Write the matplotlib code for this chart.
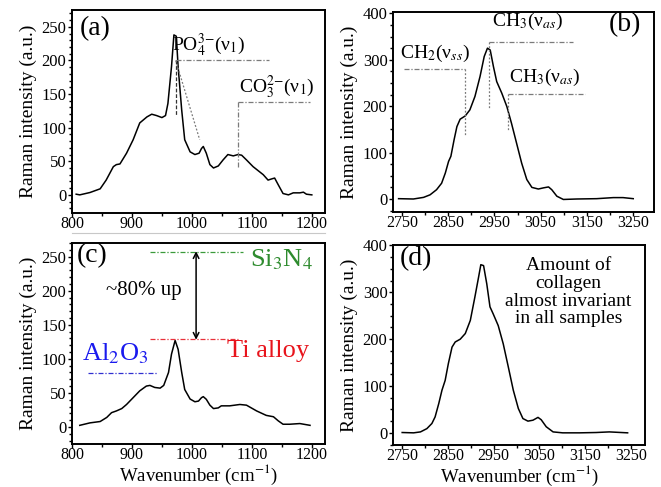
import matplotlib
matplotlib.use("Agg")
import matplotlib.pyplot as plt
from matplotlib.ticker import MultipleLocator
from matplotlib.lines import Line2D

plt.rcParams['font.family'] = ['Liberation Serif', 'DejaVu Serif']
plt.rcParams['mathtext.fontset'] = 'stix'

# (a) phosphate / carbonate region, reference sample
wn_a = [807, 813, 830, 847, 857, 869, 874, 880, 891, 902, 913, 925, 933, 941,
        950, 956, 960, 966, 970, 974, 977, 983, 988, 997, 1005, 1012, 1016,
        1019, 1024, 1030, 1036, 1044, 1052, 1060, 1069, 1077, 1083, 1091,
        1102, 1119, 1127, 1134, 1138, 1144, 1152, 1161, 1169, 1180, 1186,
        1191, 1200]
int_a = [1, 0, 3.5, 9, 22, 42, 45, 46, 62, 82, 107, 116, 120, 118,
         115, 118, 136, 191, 238, 236, 191, 126, 82, 64, 60, 62, 69,
         72, 62, 45, 40, 43, 52, 60, 58, 60, 59, 52,
         42, 30, 22, 24, 25, 15, 2, 0, 3, 3, 4,
         1, 0]

# (b) CH stretching region, reference sample
wn_b = [2743, 2775, 2797, 2811, 2825, 2836, 2844, 2851, 2856, 2863, 2869,
        2876, 2887, 2897, 2908, 2919, 2928, 2935, 2941, 2948, 2955, 2966,
        2977, 2987, 2998, 3009, 3020, 3031, 3045, 3056, 3067, 3074, 3085,
        3099, 3128, 3171, 3207, 3228, 3250]
int_b = [0.7, 0, 3.5, 9, 20, 34, 56, 81, 92, 128, 156,
         172, 179, 192, 221, 264, 307, 325, 321, 285, 253, 228,
         199, 163, 120, 77, 42, 25, 21.5, 24, 26, 20, 6,
         -1, 0, 0.7, 3, 3, 0.7]

# (c) phosphate region, Ti alloy
wn_c = [813, 830, 847, 858, 866, 874, 883, 891, 902, 913, 924, 930, 938,
        947, 953, 961, 966, 972, 977, 983, 988, 997, 1005, 1011, 1016,
        1019, 1024, 1030, 1036, 1044, 1049, 1063, 1080, 1091, 1108, 1124,
        1136, 1144, 1152, 1163, 1180, 1197]
int_c = [2.4, 6, 8, 14, 21, 23.5, 27, 33, 43, 53, 60, 61, 58,
         57, 61, 80, 107, 127, 114, 80, 55, 41, 37, 38, 43,
         44.5, 40.6, 32, 27, 28, 31, 31, 33, 32, 23.5, 17,
         15, 9, 4, 4, 5, 2.4]

# (d) CH stretching region, Ti alloy
wn_d = [2750, 2775, 2790, 2804, 2815, 2822, 2830, 2837, 2844, 2851, 2859,
        2866, 2877, 2888, 2899, 2909, 2917, 2922, 2928, 2935, 2942, 2949,
        2960, 2971, 2982, 2993, 3004, 3014, 3025, 3036, 3047, 3054, 3065,
        3080, 3101, 3138, 3174, 3203, 3243]
int_d = [0.7, 0, 2, 9, 20, 34, 62.5, 91, 112, 148, 183,
         194, 200, 212, 240, 290, 332, 359, 357, 318, 269, 254,
         229, 190, 141, 91, 52, 30.5, 25, 27, 33, 28, 13,
         2, 0, 0, 0.7, 2, 0]

fig = plt.figure(figsize=(6.61, 4.87), dpi=100)
ax_a = fig.add_axes([0.1089, 0.5626, 0.3828, 0.4168])
ax_b = fig.add_axes([0.5946, 0.5647, 0.3949, 0.4107])
ax_c = fig.add_axes([0.1089, 0.0883, 0.3828, 0.4127])
ax_d = fig.add_axes([0.5946, 0.0862, 0.3812, 0.4107])

GRAY = '#7a7a7a'
DD = (0, (4, 1.5, 1, 1.5))


def style(ax, xlim, ylim, xmaj, ymaj, ymin):
    ax.set_xlim(*xlim)
    ax.set_ylim(*ylim)
    ax.xaxis.set_major_locator(MultipleLocator(xmaj))
    ax.xaxis.set_minor_locator(MultipleLocator(xmaj / 2))
    ax.yaxis.set_major_locator(MultipleLocator(ymaj))
    ax.yaxis.set_minor_locator(MultipleLocator(ymin))
    ax.tick_params(which='both', direction='out', top=False, right=False,
                   labelsize=11.5, width=1)
    ax.tick_params(axis='x', pad=-0.5)
    ax.tick_params(axis='y', pad=1, labelsize=12)
    ax.tick_params(which='major', length=3)
    ax.tick_params(which='minor', length=2)
    for s in ax.spines.values():
        s.set_linewidth(1.4)
    ax.set_ylabel('Raman intensity (a.u.)', fontsize=14, labelpad=3)


for ax, x, y in [(ax_a, wn_a, int_a), (ax_b, wn_b, int_b),
                 (ax_c, wn_c, int_c), (ax_d, wn_d, int_d)]:
    ax.plot(x, y, color='black', lw=1.1)

style(ax_a, (800, 1222), (-27, 275), 100, 50, 10)
style(ax_c, (800, 1222), (-25, 270), 100, 50, 10)
style(ax_b, (2731, 3295), (-28, 403), 100, 100, 25)
style(ax_d, (2730, 3281), (-26, 401), 100, 100, 25)
ax_a.set_xticks([800, 900, 1000, 1100, 1200])
ax_c.set_xticks([800, 900, 1000, 1100, 1200])
for ax in (ax_b, ax_d):
    ax.set_xticks([2750, 2850, 2950, 3050, 3150, 3250])

for ax in (ax_c, ax_d):
    ax.set_xlabel('Wavenumber (cm$^{-1}$)', fontsize=13.5)
    ax.xaxis.set_label_coords(0.5, -0.183)
    ax.xaxis.label.set_va('baseline')

# panel letters
ax_a.text(838, 248, '(a)', fontsize=20, ha='center', va='center')
ax_b.text(3232, 375, '(b)', fontsize=20, ha='center', va='center')
ax_c.text(833, 251, '(c)', fontsize=20, ha='center', va='center')
ax_d.text(2779, 372, '(d)', fontsize=20, ha='center', va='center')

# (a) band assignments
ax_a.plot([973, 1128], [200, 200], color=GRAY, lw=0.9, ls=DD)
ax_a.plot([973, 973], [200, 119], color='#333333', lw=0.9, ls=(0, (3, 1.5)))
ax_a.plot([973, 1013], [200, 82], color=GRAY, lw=0.9, ls=(0, (1.5, 1.5)))
ax_a.text(1028, 222, 'PO$_4^{3\\mathrm{-}}$(ν$_1$)', fontsize=14,
          ha='center', va='center')
ax_a.plot([1077, 1197], [138, 138], color=GRAY, lw=0.9, ls=DD)
ax_a.plot([1077, 1077], [138, 40], color=GRAY, lw=0.9, ls=DD)
ax_a.text(1142, 160, 'CO$_3^{2\\mathrm{-}}$(ν$_1$)', fontsize=14,
          ha='center', va='center')

# (b) band assignments
ax_b.plot([2754, 2887], [280, 280], color=GRAY, lw=0.9, ls=DD)
ax_b.plot([2887, 2887], [280, 136], color=GRAY, lw=0.9, ls=(0, (1.5, 1.5)))
ax_b.text(2822, 314, 'CH$_2$(ν$_{ss}$)', fontsize=14, ha='center', va='center')
ax_b.plot([2939, 3120], [339, 339], color=GRAY, lw=0.9, ls=DD)
ax_b.plot([2939, 2939], [339, 196], color=GRAY, lw=0.9, ls=(0, (1.5, 1.5)))
ax_b.text(3023, 382, 'CH$_3$(ν$_{as}$)', fontsize=14, ha='center', va='center')
ax_b.plot([2979, 3146], [226, 226], color=GRAY, lw=0.9, ls=DD)
ax_b.plot([2979, 2979], [226, 146], color=GRAY, lw=0.9, ls=(0, (1.5, 1.5)))
ax_b.text(3059, 262, 'CH$_3$(ν$_{as}$)', fontsize=14, ha='center', va='center')

# (c) comparison between substrates
ax_c.plot([930, 1086], [257, 257], color='#3a9a3a', lw=0.9, ls=DD)
ax_c.text(1149, 246, 'Si$_3$N$_4$', fontsize=19, color='#2e8b2e',
          ha='center', va='center')
ax_c.plot([930, 1077], [129, 129], color='#e8303a', lw=0.9, ls=DD)
ax_c.text(1127, 112, 'Ti alloy', fontsize=19, color='#e8141c',
          ha='center', va='center')
ax_c.plot([826, 942], [79, 79], color='#3030d0', lw=0.9, ls=DD)
ax_c.text(872, 108, 'Al$_2$O$_3$', fontsize=19, color='#1a1aee',
          ha='center', va='center')
ax_c.annotate('', xy=(1007, 128), xytext=(1007, 258),
              arrowprops=dict(arrowstyle='<->', color='black', lw=1.1,
                              shrinkA=0, shrinkB=0))
ax_c.text(919, 200, '~80% up', fontsize=15, ha='center', va='center')

# (d) note
ax_d.text(3114, 300, 'Amount of\ncollagen\nalmost invariant\nin all samples',
          fontsize=14, ha='center', va='center', linespacing=1.05)

fig.add_artist(Line2D([72 / 661, 325 / 661], [1 - 233 / 487, 1 - 233 / 487],
                      color='#c8c8c8', lw=0.8))

fig.savefig('out.png', dpi=100)
